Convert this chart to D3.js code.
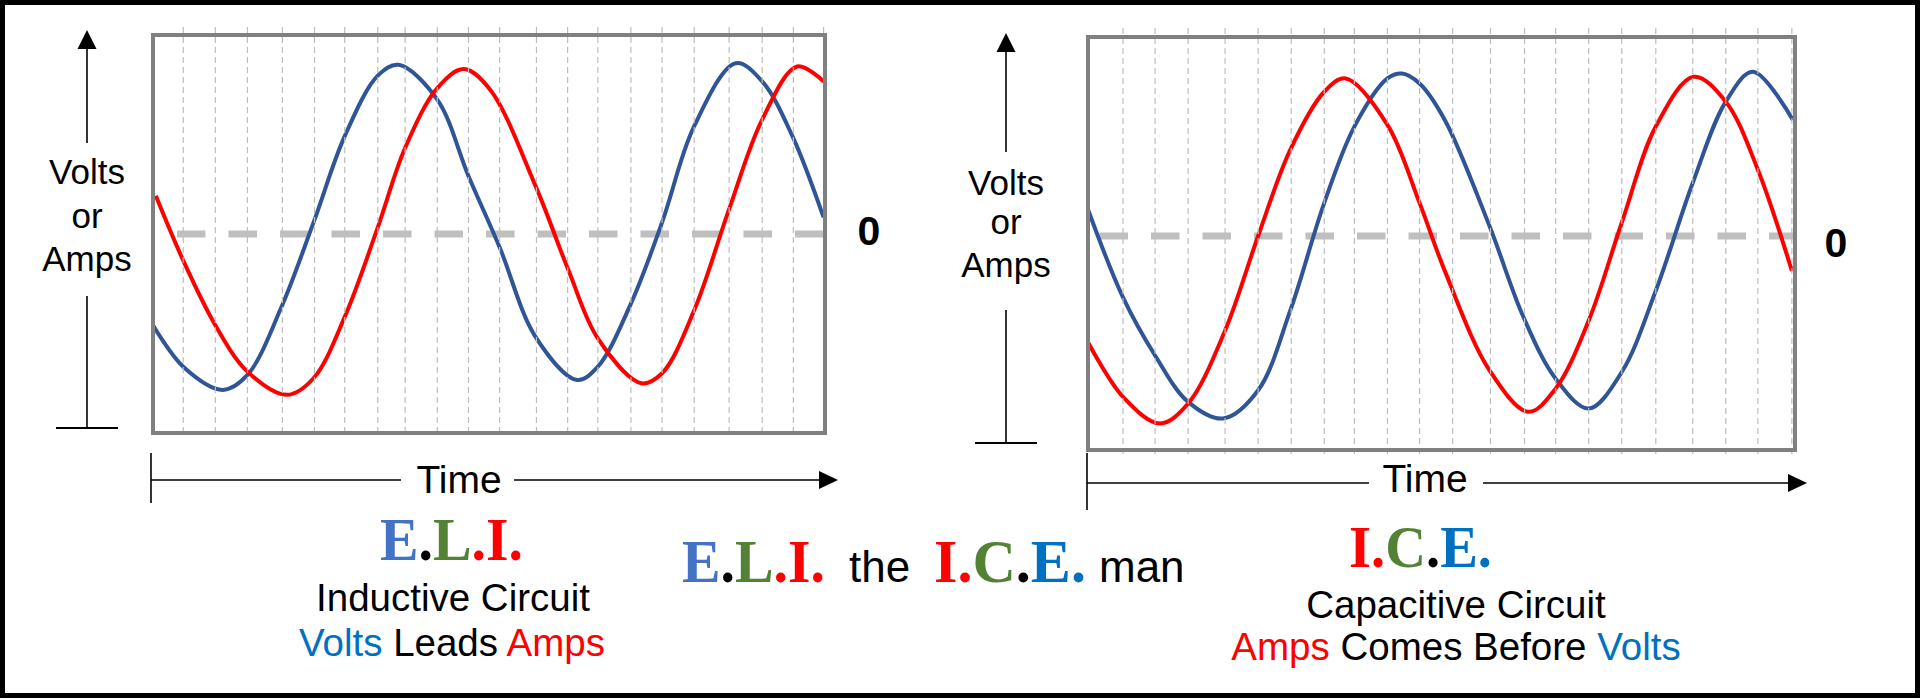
<!DOCTYPE html>
<html><head><meta charset="utf-8">
<script src="https://cdn.jsdelivr.net/npm/d3@7"></script>
<style>html,body{margin:0;padding:0;background:#fff}svg{display:block}</style>
</head><body><svg id="c" width="1920" height="698"></svg>
<script>
// ---------- DATA (time in electrical degrees, value in relative units) ----------
const eliVolts = [[0,-0.55],[32,-0.80],[74,-0.94],[100,-0.85],[136,-0.44],[170,0.07],[203,0.59],[238,0.955],[260,1.02],[301,0.81],[334,0.35],[367,-0.08],[405,-0.62],[449,-0.88],[471,-0.80],[506,-0.42],[539,0.07],[573,0.65],[617,1.03],[645,0.92],[677,0.59],[710,0.10]];
const eliAmps = [[3,0.23],[32,-0.16],[66,-0.55],[100,-0.83],[142,-0.97],[170,-0.87],[203,-0.50],[238,0.04],[267,0.52],[301,0.88],[329,0.995],[357,0.87],[405,0.29],[440,-0.22],[471,-0.63],[517,-0.90],[539,-0.84],[573,-0.46],[610,0.15],[645,0.69],[682,1.01],[710,0.92]];
const iceVolts = [[0,0.16],[36,-0.37],[69,-0.72],[103,-1.00],[139,-1.10],[175,-0.93],[208,-0.45],[243,0.20],[274,0.66],[308,0.95],[323,0.98],[341,0.92],[367,0.70],[413,0.06],[448,-0.49],[481,-0.86],[515,-1.04],[549,-0.82],[584,-0.33],[622,0.32],[656,0.81],[684,0.99],[725,0.70]];
const iceAmps = [[0,-0.64],[36,-0.97],[74,-1.13],[103,-1.01],[141,-0.57],[175,0.00],[208,0.52],[243,0.87],[265,0.95],[308,0.67],[341,0.20],[367,-0.21],[413,-0.81],[453,-1.06],[481,-0.92],[515,-0.51],[549,0.08],[584,0.66],[623,0.96],[656,0.81],[689,0.40],[724,-0.21]];
const eliGrid = [32,66,100,137,171,203,238,267,301,334,367,406,439,471,506,539,573,610,645,678,710];
const iceGrid = [36,69,103,141,175,209,243,274,308,341,375,414,449,481,515,549,584,622,656,689,724];
const zeroLabel = "0";
const yAxisLabel = ["Volts","or","Amps"];
const xAxisLabel = "Time";
const eliTitle = [["E","#4472C4"],[".","#000000"],["L","#548235"],[".","#FF0000"],["I","#FF0000"],[".","#FF0000"]];
const iceTitle = [["I","#FF0000"],[".","#FF0000"],["C","#548235"],[".","#000000"],["E","#0070C0"],[".","#0070C0"]];
const eliLine1 = [["Inductive Circuit","#000000"]];
const eliLine2 = [["Volts","#0070C0"],[" Leads ","#000000"],["Amps","#FF0000"]];
const iceLine1 = [["Capacitive Circuit","#000000"]];
const iceLine2 = [["Amps","#FF0000"],[" Comes Before ","#000000"],["Volts","#0070C0"]];
const middleWords = ["the","man"];

// ---------- STYLE ----------
const SANS = "'Liberation Sans', Arial, sans-serif";
const SERIF = "'Liberation Serif', 'Times New Roman', serif";
const BLUE = "#2F5597", RED = "#FF0000", FRAME = "#808080";

const svg = d3.select("#c");
svg.append("rect").attr("width",1920).attr("height",698).attr("fill","#fff");

function panel(cfg){
  const x = d3.scaleLinear().domain([0,cfg.tMax]).range([cfg.x0,cfg.x1]);
  const y = d3.scaleLinear().domain([cfg.vMin,cfg.vMax]).range([cfg.y1,cfg.y0]);
  const g = svg.append("g");
  // zero line
  g.append("line").attr("x1",x(0)).attr("x2",x(cfg.tMax)).attr("y1",y(0)).attr("y2",y(0))
    .attr("stroke","#BFBFBF").attr("stroke-width",7)
    .attr("stroke-dasharray","28.5 23").attr("stroke-dashoffset",cfg.dashOffset);
  const line = d3.line().x(d=>x(d[0])).y(d=>y(d[1])).curve(d3.curveCatmullRom.alpha(0.5));
  g.append("path").datum(cfg.volts).attr("d",line).attr("fill","none").attr("stroke",BLUE).attr("stroke-width",4);
  g.append("path").datum(cfg.amps).attr("d",line).attr("fill","none").attr("stroke",RED).attr("stroke-width",4);
  // vertical dashed grid
  g.selectAll("line.grid").data(cfg.grid).join("line").attr("class","grid")
    .attr("x1",d=>x(d)).attr("x2",d=>x(d)).attr("y1",cfg.gridTop).attr("y2",cfg.gridBottom)
    .attr("stroke","#BDBDBD").attr("stroke-width",1.2).attr("stroke-dasharray","6 4");
  // frame
  g.append("rect").attr("x",cfg.x0).attr("y",cfg.y0).attr("width",cfg.x1-cfg.x0).attr("height",cfg.y1-cfg.y0)
    .attr("fill","none").attr("stroke",FRAME).attr("stroke-width",4);
  // zero label
  g.append("text").attr("x",cfg.zeroX).attr("y",cfg.zeroY).attr("text-anchor","middle")
    .attr("font-family",SANS).attr("font-weight","bold").attr("font-size",41).text(zeroLabel);
}

panel({x0:153,x1:825,y0:35,y1:433,tMax:711.5,vMin:-1.2,vMax:1.2,grid:eliGrid,volts:eliVolts,amps:eliAmps,
  dashOffset:27.5,gridTop:27,gridBottom:432,zeroX:869,zeroY:245});
panel({x0:1088,x1:1795,y0:37,y1:450,tMax:727.2,vMin:-1.29,vMax:1.2,grid:iceGrid,volts:iceVolts,amps:iceAmps,
  dashOffset:40,gridTop:28,gridBottom:455,zeroX:1836,zeroY:257});

// y axis arrows
function yArrow(c){
  const g = svg.append("g").attr("stroke","#000").attr("stroke-width",1.6);
  g.append("line").attr("x1",c.x).attr("x2",c.x).attr("y1",c.tip+18).attr("y2",c.upEnd);
  g.append("line").attr("x1",c.x).attr("x2",c.x).attr("y1",c.lowStart).attr("y2",c.bottom);
  g.append("line").attr("x1",c.x-31).attr("x2",c.x+31).attr("y1",c.bottom).attr("y2",c.bottom).attr("stroke-width",2);
  svg.append("path").attr("d",`M${c.x},${c.tip}L${c.x-9.5},${c.tip+19}L${c.x+9.5},${c.tip+19}Z`).attr("fill","#000");
  const t = svg.append("text").attr("font-family",SANS).attr("font-size",35).attr("text-anchor","middle");
  yAxisLabel.forEach((s,i)=>t.append("tspan").attr("x",c.x).attr("y",c.base[i]).text(s));
}
yArrow({x:87,tip:30,upEnd:143,lowStart:296,bottom:428,base:[184,228,271]});
yArrow({x:1006,tip:33,upEnd:152,lowStart:310,bottom:443,base:[195,234,277]});

// time axes
function tArrow(c){
  const g = svg.append("g").attr("stroke","#000").attr("stroke-width",1.6);
  g.append("line").attr("x1",c.x0).attr("x2",c.x0).attr("y1",c.tickTop).attr("y2",c.tickBot);
  g.append("line").attr("x1",c.x0).attr("x2",c.gap0).attr("y1",c.y).attr("y2",c.y);
  g.append("line").attr("x1",c.gap1).attr("x2",c.tip-18).attr("y1",c.y).attr("y2",c.y);
  svg.append("path").attr("d",`M${c.tip},${c.y}L${c.tip-19},${c.y-9}L${c.tip-19},${c.y+9}Z`).attr("fill","#000");
  svg.append("text").attr("x",c.tx).attr("y",c.ty).attr("text-anchor","middle").attr("font-family",SANS)
    .attr("font-size",39).text(xAxisLabel);
}
tArrow({x0:151,y:480,gap0:401,gap1:514,tip:838,tickTop:453,tickBot:503,tx:459,ty:493});
tArrow({x0:1087,y:483,gap0:1369,gap1:1483,tip:1807,tickTop:453,tickBot:510,tx:1425,ty:492});

// colored text helpers
function serifTitle(parts,x,y,len,size){
  const t = svg.append("text").attr("x",x).attr("y",y).attr("font-family",SERIF).attr("font-weight","bold")
    .attr("font-size",size||62).attr("textLength",len).attr("lengthAdjust","spacingAndGlyphs");
  parts.forEach(p=>t.append("tspan").attr("fill",p[1]).text(p[0]));
}
function sansLine(parts,cx,y,size){
  const t = svg.append("text").attr("x",cx).attr("y",y).attr("text-anchor","middle").attr("font-family",SANS)
    .attr("font-size",size).attr("xml:space","preserve").style("white-space","pre");
  parts.forEach(p=>t.append("tspan").attr("fill",p[1]).text(p[0]));
}
serifTitle(eliTitle,380,560,143);
sansLine(eliLine1,453,611,38.5);
sansLine(eliLine2,452,656,38.5);
serifTitle(iceTitle,1349,567,143,60);
sansLine(iceLine1,1456,618,38.5);
sansLine(iceLine2,1456,660,38.5);
// middle slogan
serifTitle(eliTitle,682,582,143);
svg.append("text").attr("x",849).attr("y",582).attr("font-family",SANS).attr("font-size",44).text(middleWords[0]);
serifTitle(iceTitle,934,582,152);
svg.append("text").attr("x",1099).attr("y",582).attr("font-family",SANS).attr("font-size",44).text(middleWords[1]);

// outer border
svg.append("rect").attr("x",2.5).attr("y",2.5).attr("width",1915).attr("height",693)
  .attr("fill","none").attr("stroke","#000").attr("stroke-width",5);
</script></body></html>
